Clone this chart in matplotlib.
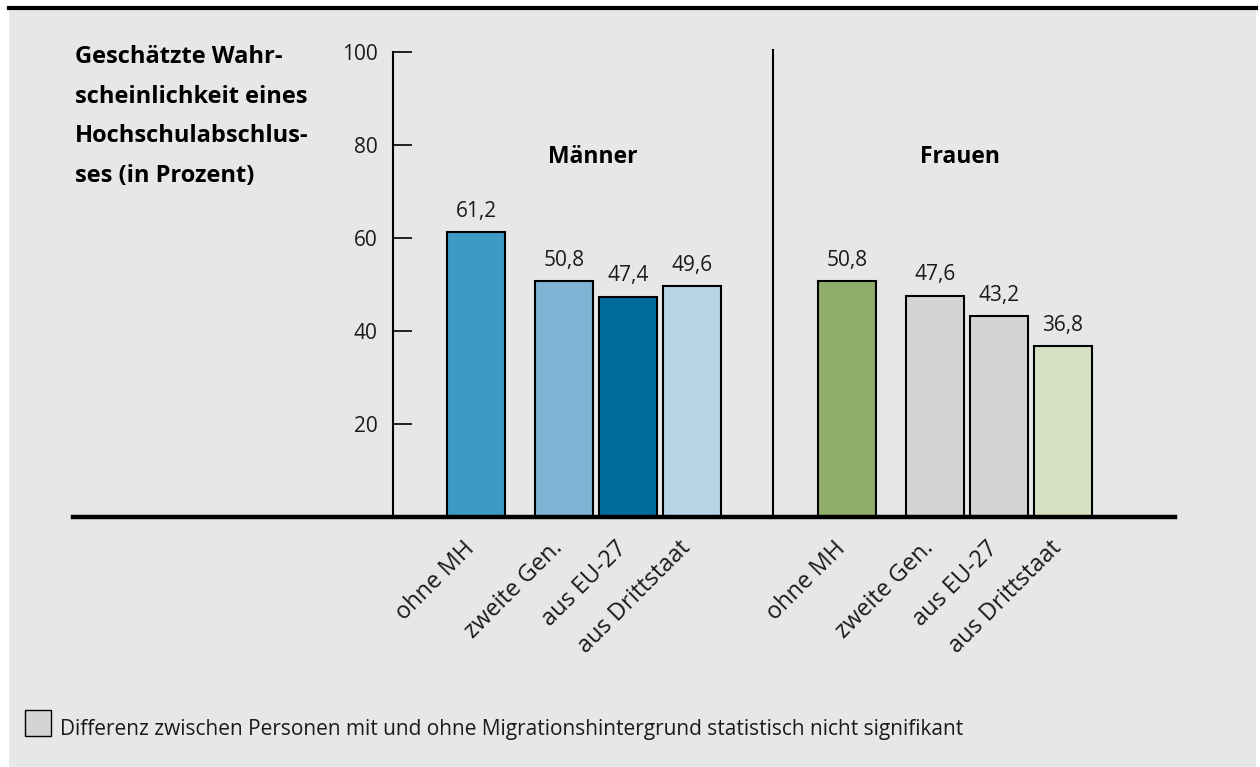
import matplotlib
matplotlib.use('Agg')
import matplotlib.pyplot as plt
from matplotlib.patches import Rectangle

plt.rcParams['font.family'] = ['Open Sans', 'DejaVu Sans']

kategorien = ['ohne MH', 'zweite Gen.', 'aus EU-27', 'aus Drittstaat']
maenner = [61.2, 50.8, 47.4, 49.6]
frauen = [50.8, 47.6, 43.2, 36.8]
farben_m = ['#3d9ac2', '#7fb4d4', '#006c9b', '#b8d4e7']
farben_f = ['#8fae6c', '#d3d4d6', '#d3d4d6', '#d5e0c4']
titel = ['Geschätzte Wahr-', 'scheinlichkeit eines', 'Hochschulabschlus-', 'ses (in Prozent)']
legende = 'Differenz zwischen Personen mit und ohne Migrationshintergrund statistisch nicht signifikant'

W, H = 1260, 767
fig = plt.figure(figsize=(W / 100, H / 100), dpi=100, facecolor='white')

def fx(px):
    return px / W

def fy(py):
    return 1 - py / H

# grauer Hintergrund + schwarze Linie oben
fig.patches.append(Rectangle((fx(9), 0), fx(1256 - 9), fy(8), transform=fig.transFigure,
                             facecolor='#e6e7e9', edgecolor='none', zorder=-10))
fig.lines.append(plt.Line2D([fx(9), fx(1256)], [fy(8), fy(8)], transform=fig.transFigure,
                            color='black', lw=3, zorder=-5))

# Achsen: Basislinie bei y=517px, 100 bei y=52px
ax = fig.add_axes([fx(73), fy(517), fx(1175 - 73), (517 - 52) / H])
ax.set_facecolor('none')
ax.set_ylim(0, 100)
unit = 64.0
ax.set_xlim(-(476 - 73) / unit, (1175 - 476) / unit)

pos_m = [0, 1.375, 2.375, 3.375]
pos_f = [p + 371 / unit for p in pos_m]
breite = 58 / unit

for pos, werte, farben in [(pos_m, maenner, farben_m), (pos_f, frauen, farben_f)]:
    bars = ax.bar(pos, werte, width=breite, color=farben, edgecolor='black', linewidth=1.5, zorder=3)
    for b, v in zip(bars, werte):
        ax.annotate(f'{v:.1f}'.replace('.', ','), (b.get_x() + b.get_width() / 2, v),
                    xytext=(0, 11), textcoords='offset points', ha='center', va='baseline',
                    fontsize=15, color='#1a1a1a')
    for p, k in zip(pos, kategorien):
        ax.text(p - 0.07, -6.0, k, rotation=45, rotation_mode='anchor', ha='right', va='center',
                fontsize=17, color='#1a1a1a')

for s in ['top', 'right', 'bottom']:
    ax.spines[s].set_visible(False)
y_achse = -(476 - 393) / unit
ax.spines['left'].set_position(('data', y_achse))
ax.spines['left'].set_bounds(0, 100)
ax.spines['left'].set_linewidth(1.5)
ax.set_yticks([20, 40, 60, 80, 100])
ax.set_yticklabels(['20', '40', '60', '80', '100'])
ax.tick_params(axis='y', direction='in', length=14, width=1.2, labelsize=15, pad=11,
               labelcolor='#1a1a1a')
ax.set_xticks([])

ax.axhline(0, color='black', lw=3.2, zorder=5, clip_on=False)
trenn = (773 - 476) / unit
ax.plot([trenn, trenn], [0, 100.5], color='black', lw=1.5, clip_on=False)

ax.text((pos_m[1] + pos_m[2]) / 2 - 3 / unit, 77.5, 'Männer', ha='center', va='center',
        fontsize=16.5, fontweight='bold')
ax.text((pos_f[1] + pos_f[2]) / 2 - 7 / unit, 77.5, 'Frauen', ha='center', va='center',
        fontsize=16.5, fontweight='bold')

for i, zeile in enumerate(titel):
    fig.text(fx(75), fy(63 + i * 39.6), zeile, ha='left', va='baseline',
             fontsize=17, fontweight='bold')

# Legende
fig.patches.append(Rectangle((fx(25), fy(736)), fx(26), 26 / H, transform=fig.transFigure,
                             facecolor='#d3d4d6', edgecolor='black', lw=1))
fig.text(fx(60), fy(735), legende, ha='left', va='baseline', fontsize=15, color='#1a1a1a')

fig.savefig('out.png', dpi=100, facecolor='white')
